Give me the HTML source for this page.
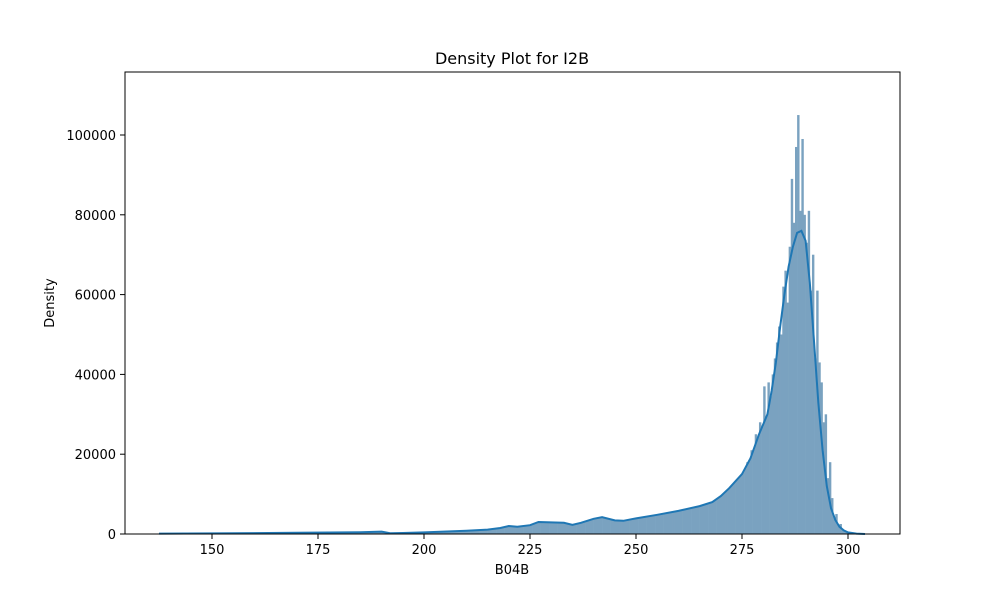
<!DOCTYPE html>
<html><head><meta charset="utf-8"><style>
body{margin:0;background:#fff;}
svg{display:block;font-family:"DejaVu Sans","Liberation Sans",sans-serif;}
</style></head><body>
<svg id="chart" width="1000" height="600" viewBox="0 0 1000 600">
<rect width="1000" height="600" fill="#fff"/>
<text x="512" y="64" font-size="16" text-anchor="middle">Density Plot for I2B</text>
<g id="hist"></g>
<path id="kde" fill="none" stroke="#1f77b4" stroke-width="2"/>
<rect x="125" y="72" width="775" height="462" fill="none" stroke="#000" stroke-width="1"/>
<g id="xt"></g>
<g id="yt"></g>
<text x="512" y="574" font-size="13" text-anchor="middle">B04B</text>
<text x="0" y="0" font-size="13" text-anchor="middle" transform="translate(54,303) rotate(-90)">Density</text>
</svg>
<script>
const kdeX=[137.5,150,170,185,190,192,195,200,210,215,218,220,222,225,227,230,233,235,237,240,242,245,247,250,255,260,265,268,270,272,275,277,279,281,282,283,284,285,286,287,288,289,290,291,292,293,294,295,296,297,298,299,300,302,304];
const kdeY=[0.1,0.15,0.3,0.45,0.6,0.2,0.25,0.4,0.8,1.1,1.5,2.0,1.8,2.2,3.0,2.9,2.8,2.3,2.8,3.8,4.2,3.4,3.3,3.9,4.8,5.8,7.0,8.0,9.5,11.5,15,19,25,30,36,43,52,60,67,72,75.5,76,73.5,63,48,33,21,12,6.5,3.5,1.8,0.9,0.4,0.1,0];
const spikeX=[276,277,278,279,280,281,282,282.5,283,283.5,284,284.5,285,285.5,286,286.5,287,287.5,288,288.5,289,289.5,290,290.5,291,291.5,292,292.5,293,293.5,294,294.5,295,295.5,296,297,298];
const spikeY=[18,21,25,28,37,38,40,44,48,52,50,62,66,58,72,89,78,97,105,81,99,80,73,81,61,70,44,61,43,38,28,30,14,18,9,5,2.5];
const xTicks=[150,175,200,225,250,275,300];
const yTicks=[0,20000,40000,60000,80000,100000];
const X=v=>212+(v-150)*4.24, Y=v=>534-v*3.99/1000;
const NS="http://www.w3.org/2000/svg";
function kde(x){for(let i=0;i<kdeX.length-1;i++){if(x>=kdeX[i]&&x<=kdeX[i+1]){const t=(x-kdeX[i])/(kdeX[i+1]-kdeX[i]);return kdeY[i]+(kdeY[i+1]-kdeY[i])*t;}}return 0;}
const hg=document.getElementById('hist');
for(let b=137.5;b<304;b+=0.5){
 let v=kde(b+0.25)*1000;
 const k=spikeX.indexOf(b); if(k>=0) v=spikeY[k]*1000;
 const r=document.createElementNS(NS,'rect');
 r.setAttribute('x',X(b));r.setAttribute('width',X(b+0.5)-X(b)+0.3);
 r.setAttribute('y',Y(v));r.setAttribute('height',534-Y(v));
 r.setAttribute('fill','#7aa2c0');
 
 
 hg.appendChild(r);
}
let d='';for(let i=0;i<kdeX.length;i++){d+=(i?'L':'M')+X(kdeX[i]).toFixed(1)+','+Y(kdeY[i]*1000).toFixed(1);}
document.getElementById('kde').setAttribute('d',d);
const xg=document.getElementById('xt');
xTicks.forEach(t=>{
 const l=document.createElementNS(NS,'line');l.setAttribute('x1',X(t));l.setAttribute('x2',X(t));l.setAttribute('y1',534);l.setAttribute('y2',539);l.setAttribute('stroke','#000');
 
 
 xg.appendChild(l);
 const s=document.createElementNS(NS,'text');s.setAttribute('x',X(t));s.setAttribute('y',554);s.setAttribute('font-size','13');s.setAttribute('text-anchor','middle');s.textContent=t;
 
 
 xg.appendChild(s);
});
const yg=document.getElementById('yt');
yTicks.forEach(t=>{
 const l=document.createElementNS(NS,'line');l.setAttribute('x1',120);l.setAttribute('x2',125);l.setAttribute('y1',Y(t));l.setAttribute('y2',Y(t));l.setAttribute('stroke','#000');
 
 
 yg.appendChild(l);
 const s=document.createElementNS(NS,'text');s.setAttribute('x',116);s.setAttribute('y',Y(t)+5);s.setAttribute('font-size','13');s.setAttribute('text-anchor','end');s.textContent=t;
 
 
 yg.appendChild(s);
});
</script>
</body></html>
